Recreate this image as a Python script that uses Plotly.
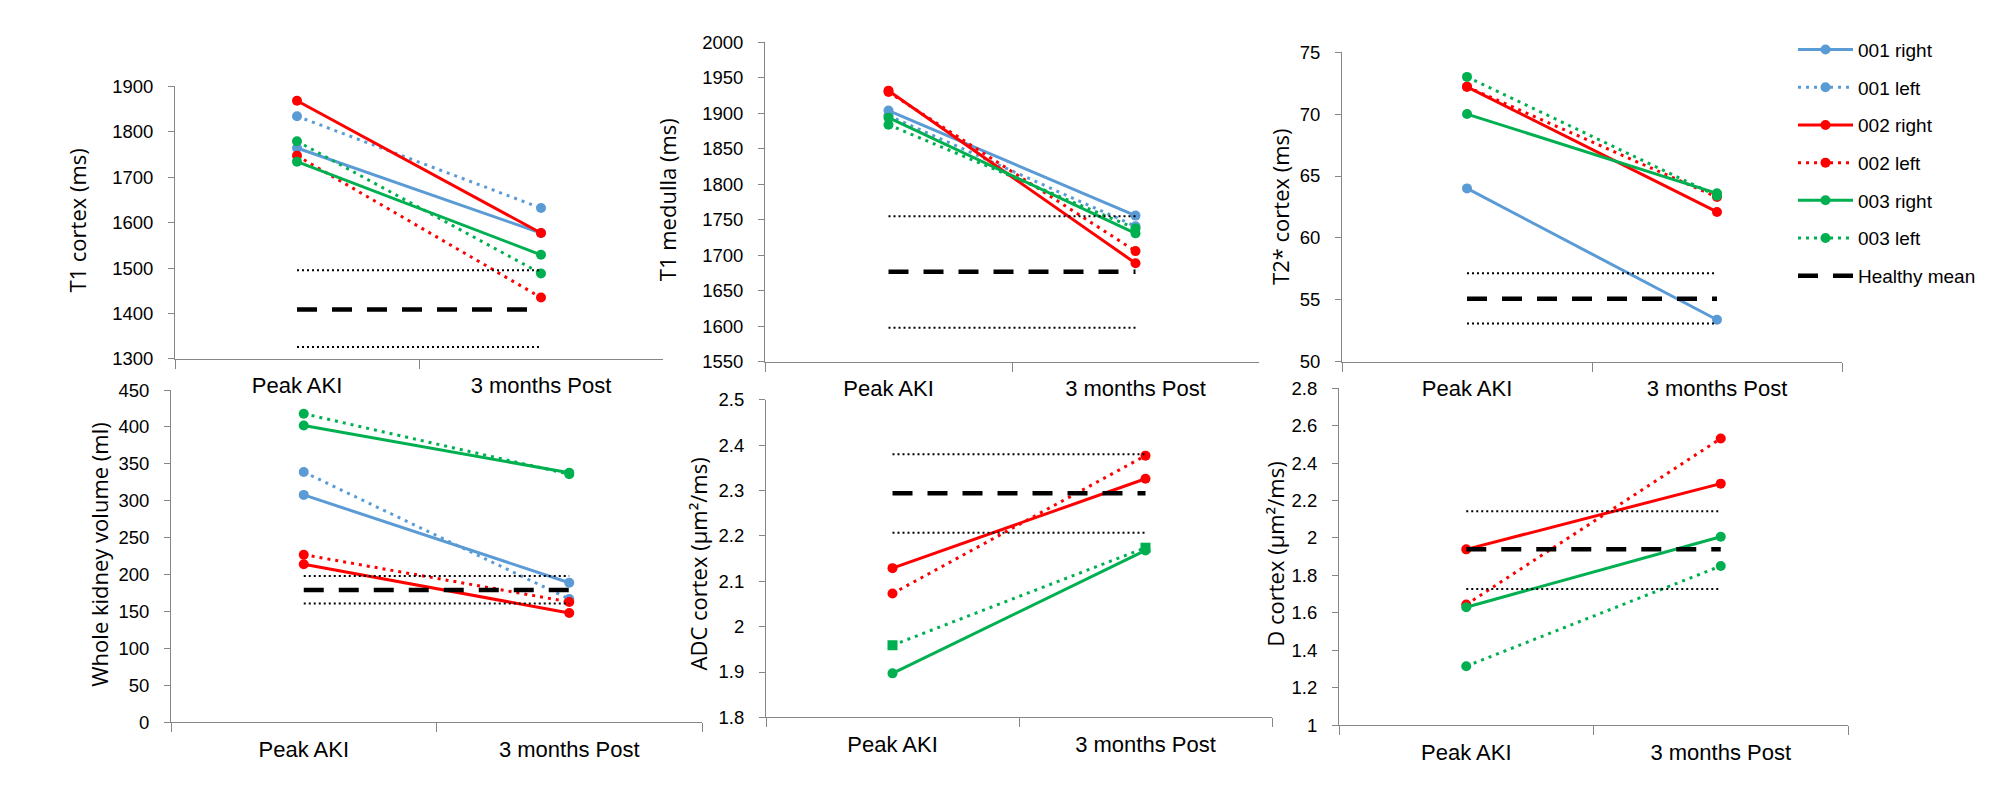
import plotly.graph_objects as go

W, H = 1990, 808

categories = ["Peak AKI", "3 months Post"]
series_names = ["001 right", "001 left", "002 right", "002 left", "003 right", "003 left"]
healthy_name = "Healthy mean"

# values per series: [Peak AKI, 3 months Post]
t1_cortex = [[1764, 1577], [1834, 1632], [1868, 1577], [1747, 1435], [1734, 1529], [1779, 1488]]
t1_cortex_healthy = [1409, 1495, 1326]          # mean, upper, lower
t1_medulla = [[1904, 1756], [1897, 1741], [1932, 1689], [1930, 1706], [1894, 1731], [1884, 1738]]
t1_medulla_healthy = [1677, 1755, 1598]
t2star_cortex = [[64.0, 53.4], [None, None], [72.2, 62.1], [72.2, 63.3], [70.0, 63.6], [73.0, 63.4]]
t2star_cortex_healthy = [55.1, 57.15, 53.1]
kidney_volume = [[308, 189], [339, 167], [214, 148], [227, 163], [402, 338], [418, 336]]
kidney_volume_healthy = [179, 198, 161]
adc_cortex = [[None, None], [None, None], [2.129, 2.326], [2.073, 2.377], [1.897, 2.168], [1.959, 2.174]]
adc_cortex_healthy = [2.294, 2.380, 2.207]
d_cortex = [[None, None], [None, None], [1.939, 2.290], [1.644, 2.531], [1.630, 2.006], [1.315, 1.850]]
d_cortex_healthy = [1.939, 2.143, 1.727]

y_titles = ["T1 cortex (ms)", "T1 medulla (ms)", "T2* cortex (ms)",
            "Whole kidney volume (ml)", "ADC cortex (µm²/ms)", "D cortex (µm²/ms)"]
y_ranges = [[1300, 1900], [1550, 2000], [50, 75], [0, 450], [1.8, 2.5], [1, 2.8]]
y_dticks = [100, 50, 5, 50, 0.1, 0.2]

panel_values = [t1_cortex, t1_medulla, t2star_cortex, kidney_volume, adc_cortex, d_cortex]
panel_healthy = [t1_cortex_healthy, t1_medulla_healthy, t2star_cortex_healthy,
                 kidney_volume_healthy, adc_cortex_healthy, d_cortex_healthy]

# layout (pixels)
plot_boxes = [  # x0, x1, ytop, ybottom
    (167, 655, 69, 349),
    (757, 1251, 24, 352),
    (1334, 1834, 34, 352),
    (163, 694, 381, 722),
    (758, 1264, 391, 717),
    (1331, 1840, 379, 725),
]
title_pos = [(69, 207), (659, 186), (1272, 193), (91, 550), (690, 560), (1267, 550)]

colors = ["#5B9BD5", "#5B9BD5", "#FF0000", "#FF0000", "#00B050", "#00B050"]
dashes = ["solid", "3px,5px", "solid", "3px,5px", "solid", "3px,5px"]
AXIS = "#868686"
TICKFONT = "Liberation Sans, Arial, sans-serif"
TITLEFONT = "Open Sans, DejaVu Sans, sans-serif"

fig = go.Figure()
layout = {}
annotations = []

for p in range(6):
    xa = f"x{p+1}" if p else "x"
    ya = f"y{p+1}" if p else "y"
    vals = panel_values[p]
    for s in range(6):
        v = vals[s]
        symbol = "square" if (p == 4 and s == 5) else "circle"
        fig.add_trace(go.Scatter(
            x=categories, y=v, name=series_names[s], legendgroup=series_names[s],
            showlegend=(p == 0), mode="lines+markers",
            line=dict(color=colors[s], width=3, dash=dashes[s]),
            marker=dict(color=colors[s], size=10, symbol=symbol),
            xaxis=xa, yaxis=ya, cliponaxis=False,
        ))
    mean, upper, lower = panel_healthy[p]
    fig.add_trace(go.Scatter(
        x=categories, y=[mean, mean], name=healthy_name, legendgroup=healthy_name,
        showlegend=(p == 0), mode="lines",
        line=dict(color="black", width=4.5, dash="20px,15px"),
        xaxis=xa, yaxis=ya,
    ))
    for bound in (upper, lower):
        fig.add_trace(go.Scatter(
            x=categories, y=[bound, bound], showlegend=False, mode="lines",
            line=dict(color="black", width=2, dash="2px,3px"),
            xaxis=xa, yaxis=ya, hoverinfo="skip",
        ))

    x0, x1, yt, yb = plot_boxes[p]
    layout["xaxis" + (str(p+1) if p else "")] = dict(
        domain=[x0 / W, x1 / W], anchor=ya, type="category", range=[-0.5, 1.5],
        tickson="boundaries", ticks="outside", ticklen=9, tickcolor=AXIS, tickwidth=1,
        showline=True, linecolor=AXIS, linewidth=1, showgrid=False, zeroline=False,
        tickfont=dict(family=TICKFONT, size=22, color="black"), ticklabelstandoff=7,
        fixedrange=True,
    )
    lo, hi = y_ranges[p]
    layout["yaxis" + (str(p+1) if p else "")] = dict(
        domain=[1 - yb / H, 1 - yt / H], anchor=xa, range=[lo, hi], tick0=lo, dtick=y_dticks[p],
        ticks="outside", ticklen=6, tickcolor=AXIS, tickwidth=1,
        showline=True, linecolor=AXIS, linewidth=1, showgrid=False, zeroline=False,
        tickfont=dict(family=TICKFONT, size=18.5, color="black"), ticklabelstandoff=11,
        fixedrange=True,
    )
    tx, ty = title_pos[p]
    annotations.append(dict(
        text=y_titles[p], x=tx / W, y=1 - ty / H, xref="paper", yref="paper",
        xanchor="center", yanchor="middle", textangle=-90, showarrow=False,
        font=dict(family=TITLEFONT, size=22, color="black"),
    ))

fig.update_layout(
    width=W, height=H, margin=dict(l=0, r=0, t=0, b=0),
    paper_bgcolor="white", plot_bgcolor="white",
    annotations=annotations,
    legend=dict(
        x=1785 / W, y=1 - 12 / H, xanchor="left", yanchor="top",
        font=dict(family=TICKFONT, size=19, color="black"),
        traceorder="grouped", tracegroupgap=10, itemwidth=55,
        bgcolor="rgba(0,0,0,0)",
    ),
    **layout,
)

fig.write_html("out.html")
